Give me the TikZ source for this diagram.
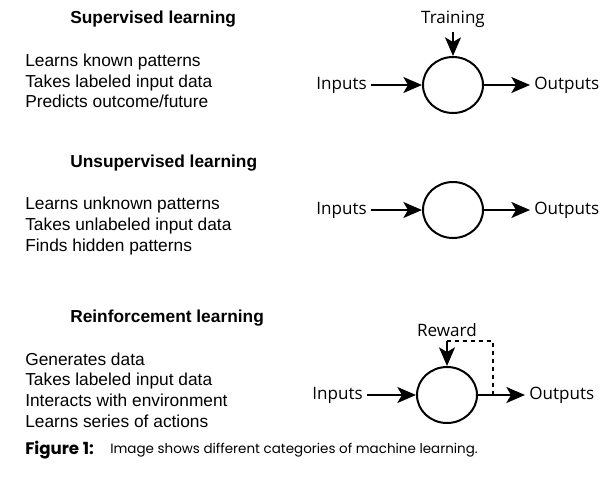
\documentclass[tikz,border=0pt]{standalone}
\usepackage{fontspec}
\setmainfont{Liberation Sans}
\newfontfamily\diagfont{Open Sans}
\newfontfamily\capfont{Poppins}
\usetikzlibrary{shapes.geometric,arrows.meta}

\begin{document}
\begin{tikzpicture}[x=0.75pt,y=-0.75pt,
	heading/.style={anchor=west, inner sep=0pt, font=\fontsize{13}{15.5}\selectfont\bfseries},
	points/.style={anchor=west, align=left, inner sep=0pt, font=\fontsize{13}{15.5}\selectfont},
	tag/.style={inner sep=3pt, font=\diagfont\fontsize{12.8}{15}\selectfont},
	unit/.style={shape=ellipse, draw, line width=1.5pt, minimum width=45pt, minimum height=42pt, inner sep=0pt},
	flow/.style={-{Stealth[length=14pt,width=12pt,inset=3.5pt]}, line width=1.2pt}]
			% Paths, nodes and wires:
			\useasboundingbox (0,0) rectangle (614,482);
			\node[heading] (h1) at (70,19) {Supervised learning};
			\node[points] (p1) at (25,81) {Learns known patterns\\Takes labeled input data\\Predicts outcome/future};
			\node[unit] (c1) at (453,85) {};
			\node[tag, anchor=east] (in1) at (371,85) {Inputs};
			\node[tag, anchor=west] (out1) at (530,85) {Outputs};
			\node[tag] (tr) at (453,19) {Training};
			\node[heading] (h2) at (70,163) {Unsupervised learning};
			\node[points] (p2) at (25,226) {Learns unknown patterns\\Takes unlabeled input data\\Finds hidden patterns};
			\node[unit] (c2) at (453,210) {};
			\node[tag, anchor=east] (in2) at (371,210) {Inputs};
			\node[tag, anchor=west] (out2) at (530,210) {Outputs};
			\node[heading] (h3) at (70,318) {Reinforcement learning};
			\node[points] (p3) at (25,390) {Generates data\\Takes labeled input data\\Interacts with environment\\Learns series of actions};
			\node[unit] (c3) at (447,395) {};
			\node[tag, anchor=east] (in3) at (367,395) {Inputs};
			\node[tag, anchor=west] (out3) at (525,395) {Outputs};
			\node[tag] (rw) at (447,330) {Reward};
			\coordinate (fb) at (493,395);
			\node[anchor=west, inner sep=0pt, font=\capfont\bfseries\fontsize{12.5}{14}\selectfont] (fig) at (25,450) {Figure 1:};
			\node[anchor=west, inner sep=0pt, font=\capfont\fontsize{10.1}{12}\selectfont] (cap) at (110,450) {Image shows different categories of machine learning.};
			\draw[flow] (in1) -- (c1);
			\draw[flow] (c1) -- (out1);
			\draw[flow] (tr) -- (c1);
			\draw[flow] (in2) -- (c2);
			\draw[flow] (c2) -- (out2);
			\draw[flow] (in3) -- (c3);
			\draw[flow] (c3) -- (out3);
			\draw[flow] (rw) -- (c3);
			\draw[dashed, line width=1.1pt] (fb) |- (rw.south);
		\end{tikzpicture}
\end{document}
